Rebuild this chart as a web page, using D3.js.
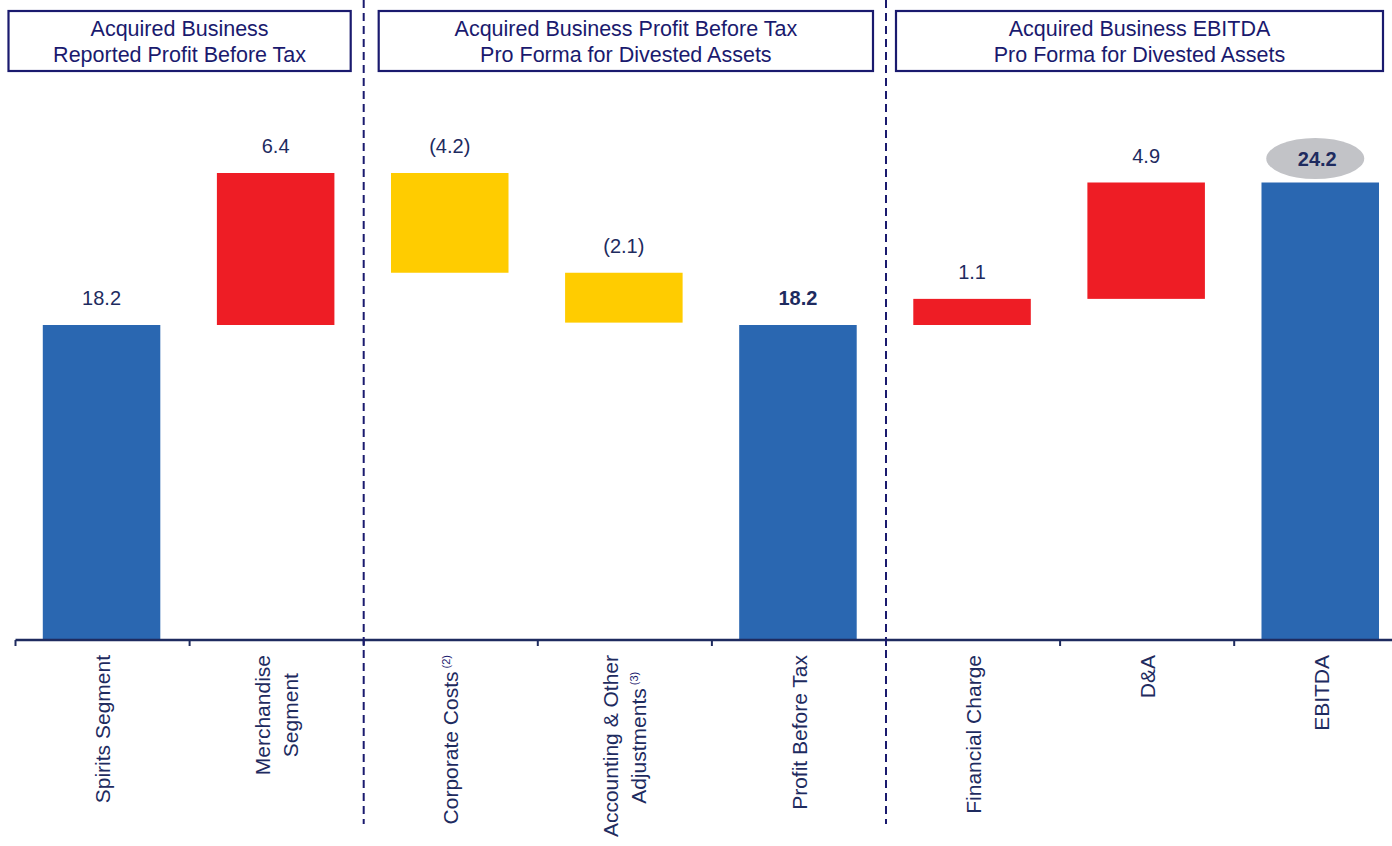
<!DOCTYPE html>
<html>
<head>
<meta charset="utf-8">
<script src="https://cdn.jsdelivr.net/npm/d3@7"></script>
<style>
  html, body { margin: 0; padding: 0; background: #ffffff; }
  svg { display: block; font-family: "Liberation Sans", Arial, sans-serif; }
</style>
</head>
<body>
<svg id="chart" width="1392" height="846"></svg>
<script>
// ---------------- data ----------------
const categories = ["Spirits Segment", "Merchandise Segment", "Corporate Costs",
  "Accounting & Other Adjustments", "Profit Before Tax", "Financial Charge", "D&A", "EBITDA"];
const labelLines = [["Spirits Segment"], ["Merchandise", "Segment"], ["Corporate Costs"],
  ["Accounting & Other", "Adjustments"], ["Profit Before Tax"], ["Financial Charge"], ["D&A"], ["EBITDA"]];
const footnotes = ["", "", "(2)", "(3)", "", "", "", ""];
const values = [18.2, 6.4, -4.2, -2.1, 18.2, 1.1, 4.9, 24.2];
const barTypes = ["total", "increase", "decrease", "decrease", "total", "increase", "increase", "total"];
const boldValues = [false, false, false, false, true, false, false, true];
const ovalCategory = "EBITDA";
const panelTitles = [
  ["Acquired Business", "Reported Profit Before Tax"],
  ["Acquired Business Profit Before Tax", "Pro Forma for Divested Assets"],
  ["Acquired Business EBITDA", "Pro Forma for Divested Assets"]
];
const panelStartIndex = [0, 2, 5];

// ---------------- styles ----------------
const W = 1392, H = 846;
const colors = { total: "#2A67B1", increase: "#EE1D25", decrease: "#FFCC00" };
const navy = "#1E2B5F";
const headerNavy = "#1A1A6E";

const svg = d3.select("#chart");

// ---------------- scales ----------------
const step = 174.1;
const x = d3.scaleBand().domain(categories).range([15.5, 15.5 + step * categories.length]).padding(0);
// broken-style value axis: totals are compressed below 18.2, steps above
const y = d3.scaleLinear().domain([0, 18.2, 24.6]).range([639, 325, 173]);

// waterfall computation
let running = 0;
const bars = categories.map((c, i) => {
  const v = values[i];
  let a, b;
  if (barTypes[i] === "total") { a = 0; b = v; running = v; }
  else { a = running; b = running + v; running = b; }
  return { cat: c, v, type: barTypes[i], lo: Math.min(a, b), hi: Math.max(a, b), bold: boldValues[i] };
});

const barW = x.bandwidth() * 0.675;
const fmt = d3.format(".1f");
const labelText = v => v < 0 ? `(${fmt(-v)})` : fmt(v);

// ---------------- bars ----------------
svg.append("g").selectAll("rect").data(bars).join("rect")
  .attr("x", d => x(d.cat) + (x.bandwidth() - barW) / 2 - 1)
  .attr("width", barW)
  .attr("y", d => y(d.hi))
  .attr("height", d => y(d.lo) - y(d.hi))
  .attr("fill", d => colors[d.type]);

// oval behind EBITDA label
const ovalBar = bars.find(d => d.cat === ovalCategory);
svg.append("ellipse")
  .attr("cx", x(ovalBar.cat) + x.bandwidth() / 2 - 6)
  .attr("cy", y(ovalBar.hi) - 24)
  .attr("rx", 49).attr("ry", 20.5)
  .attr("fill", "#C2C3C7");

// value labels
svg.append("g").selectAll("text").data(bars).join("text")
  .attr("x", d => x(d.cat) + x.bandwidth() / 2 - (d.cat === ovalCategory ? 4 : 1))
  .attr("y", d => d.cat === ovalCategory ? y(d.hi) - 17 : y(d.hi) - 20)
  .attr("text-anchor", "middle")
  .attr("font-size", 20)
  .attr("font-weight", d => d.bold ? "bold" : "normal")
  .attr("fill", navy)
  .text(d => labelText(d.v));

// ---------------- axis ----------------
const axisY = y(0);
const [r0, r1] = x.range();
const axisG = svg.append("g");
axisG.append("line")
  .attr("x1", r0).attr("x2", Math.min(r1, W)).attr("y1", axisY + 1).attr("y2", axisY + 1)
  .attr("stroke", navy).attr("stroke-width", 2.5);
axisG.selectAll("line.tick").data(categories).join("line").attr("class", "tick")
  .attr("x1", d => x(d)).attr("x2", d => x(d))
  .attr("y1", axisY + 1).attr("y2", axisY + 7)
  .attr("stroke", navy).attr("stroke-width", 2);

// category labels (rotated)
const labelTop = 655;
const lineH = 28;
categories.forEach((c, i) => {
  const cx = x(c) + x.bandwidth() / 2;
  const lines = labelLines[i];
  const n = lines.length;
  const g = svg.append("g").attr("transform", `translate(${cx},${labelTop}) rotate(-90)`);
  const items = lines.map((ln, j) => {
    const t = g.append("text")
      .attr("y", (j - (n - 1) / 2) * lineH)
      .attr("dy", "0.36em")
      .attr("font-size", 21)
      .attr("fill", navy);
    const main = t.append("tspan").text(ln);
    let sup = null;
    if (j === n - 1 && footnotes[i]) {
      sup = t.append("tspan").text(" " + footnotes[i])
        .attr("font-size", 11).attr("dy", "-0.75em").attr("fill", headerNavy);
    }
    return { t, main, sup };
  });
  const mainW = items.map(it => it.main.node().getComputedTextLength());
  const fullW = items.map((it, j) => mainW[j] + (it.sup && n === 1 ? it.sup.node().getComputedTextLength() : 0));
  const blockW = d3.max(fullW);
  items.forEach((it, j) => {
    const start = -blockW / 2 - mainW[j] / 2;
    it.t.attr("x", n === 1 ? -blockW : start);
  });
});

// ---------------- panel dividers ----------------
panelStartIndex.slice(1).forEach(k => {
  svg.append("line")
    .attr("x1", x(categories[k])).attr("x2", x(categories[k]))
    .attr("y1", 0).attr("y2", 824)
    .attr("stroke", headerNavy).attr("stroke-width", 2)
    .attr("stroke-dasharray", "8,5");
});

// ---------------- panel headers ----------------
const boxLeftInset = [-7, 15, 10];
const boxRightInset = [13, 13, 0];
panelTitles.forEach((lines, p) => {
  const startX = x(categories[panelStartIndex[p]]);
  const endX = p < panelTitles.length - 1 ? x(categories[panelStartIndex[p + 1]]) : W - 9;
  const bx0 = startX + boxLeftInset[p];
  const bx1 = endX - boxRightInset[p];
  svg.append("rect")
    .attr("x", bx0).attr("y", 11)
    .attr("width", bx1 - bx0).attr("height", 60)
    .attr("fill", "white")
    .attr("stroke", headerNavy).attr("stroke-width", 2.2);
  const t = svg.append("text")
    .attr("text-anchor", "middle")
    .attr("font-size", 21.5)
    .attr("fill", headerNavy);
  lines.forEach((ln, j) => {
    t.append("tspan").attr("x", (bx0 + bx1) / 2).attr("y", 36 + j * 25.5).text(ln);
  });
});
</script>
</body>
</html>
